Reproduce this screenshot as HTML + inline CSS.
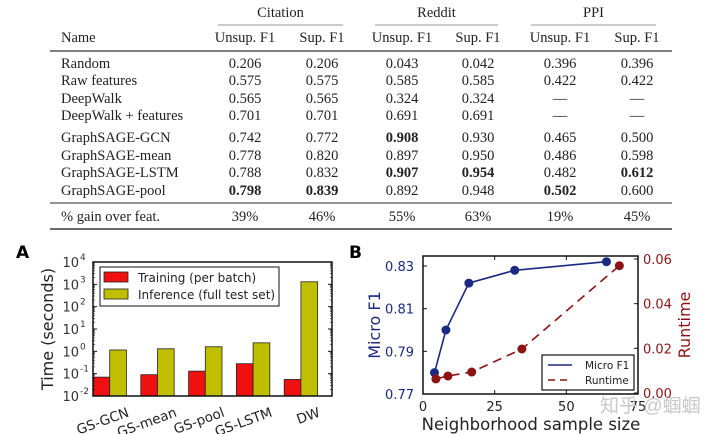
<!DOCTYPE html>
<html><head><meta charset="utf-8"><style>
body{margin:0;background:#fff;}
svg{display:block;}
.serif{font-family:"Liberation Serif",serif;font-size:14.5px;fill:#222;}
.sans{font-family:"DejaVu Sans","Liberation Sans",sans-serif;}
</style></head><body>
<svg id="root" width="720" height="434" viewBox="0 0 720 434" xmlns="http://www.w3.org/2000/svg">
<g id="table"></g>
<g id="chartA"></g>
<g id="chartB"></g>
<text x="600" y="412" font-family="'Liberation Sans','Noto Sans CJK SC',sans-serif" font-size="19" fill="#c8c8c8">知乎 @蝈蝈</text>
</svg>
<script>
const NS="http://www.w3.org/2000/svg";
function mk(p,t,a,txt){const e=document.createElementNS(NS,t);for(const k in a)e.setAttribute(k,a[k]);if(txt!==undefined)e.textContent=txt;p.appendChild(e);return e;}

// ---------- TABLE DATA ----------
const rowNames=["Random","Raw features","DeepWalk","DeepWalk + features","GraphSAGE-GCN","GraphSAGE-mean","GraphSAGE-LSTM","GraphSAGE-pool","% gain over feat."];
const citeUnsup=["0.206","0.575","0.565","0.701","0.742","0.778","0.788","*0.798","39%"];
const citeSup=["0.206","0.575","0.565","0.701","0.772","0.820","0.832","*0.839","46%"];
const redUnsup=["0.043","0.585","0.324","0.691","*0.908","0.897","*0.907","0.892","55%"];
const redSup=["0.042","0.585","0.324","0.691","0.930","0.950","*0.954","0.948","63%"];
const ppiUnsup=["0.396","0.422","—","—","0.465","0.486","0.482","*0.502","19%"];
const ppiSup=["0.396","0.422","—","—","0.500","0.598","*0.612","0.600","45%"];

const T=document.getElementById('table');
const rowY=[68,85,103,120,142,160,177,195,221];
const colX=[245,322,402,478,560,637];
const cols=[citeUnsup,citeSup,redUnsup,redSup,ppiUnsup,ppiSup];
const groups=["Citation","Reddit","PPI"];
const gx=[[218,343],[375,498],[531,656]];
groups.forEach((g,i)=>{
  const t=mk(T,'text',{x:(gx[i][0]+gx[i][1])/2,y:17,'text-anchor':'middle',class:'serif'},g);
  
  
  const l=mk(T,'line',{x1:gx[i][0],x2:gx[i][1],y1:25,y2:25,stroke:'#999','stroke-width':1});
  
  
});
let h=mk(T,'text',{x:61,y:42,class:'serif'},"Name");


colX.forEach((x,i)=>{
  const t=mk(T,'text',{x:x,y:42,'text-anchor':'middle',class:'serif'},i%2==0?"Unsup. F1":"Sup. F1");
  
  
});
[[51,1.6],[203,1.3],[229,1.8]].forEach(([y,w])=>{
  const l=mk(T,'line',{x1:50,x2:672,y1:y,y2:y,stroke:'#555','stroke-width':w});
  
  
});
rowNames.forEach((n,r)=>{
  const t=mk(T,'text',{x:61,y:rowY[r],class:'serif'},n);
  
  
  cols.forEach((c,ci)=>{
    let v=c[r],bold=false;if(v[0]=='*'){bold=true;v=v.slice(1);}
    const e=mk(T,'text',{x:colX[ci],y:rowY[r],'text-anchor':'middle',class:'serif','font-weight':bold?'bold':'normal'},v);
    
    
  });
});

// ---------- CHART A DATA ----------
const catsA=["GS-GCN","GS-mean","GS-pool","GS-LSTM","DW"];
const training=[0.07,0.09,0.13,0.28,0.055];
const inference=[1.15,1.3,1.6,2.4,1300];
const yTicksA=[-2,-1,0,1,2,3,4];

const A=document.getElementById('chartA');
const ax0=93,ax1=332,ay0=396,ay1=262;
const yA=v=>ay0-(Math.log10(v)+2)/6*(ay0-ay1);
const gw=(ax1-ax0)/5, bw=16.7;
let lA=mk(A,'text',{x:16,y:258,'font-size':17,'font-weight':'bold',class:'sans'},"A");


catsA.forEach((c,i)=>{
  const x=ax0+i*gw;
  const r=mk(A,'rect',{x:x,y:yA(training[i]),width:bw,height:ay0-yA(training[i]),fill:'#f01010',stroke:'#222','stroke-width':0.8});
  
  
  const b=mk(A,'rect',{x:x+bw,y:yA(inference[i]),width:bw,height:ay0-yA(inference[i]),fill:'#bfbf00',stroke:'#222','stroke-width':0.8});
  
  
  const cx=x+bw+20, cy=416;
  const t=mk(A,'text',{x:cx,y:cy,'text-anchor':'end','font-size':13.5,fill:'#222',class:'sans',transform:`rotate(-20 ${cx} ${cy})`},c);
  
  
});
let frA=mk(A,'rect',{x:ax0,y:ay1,width:ax1-ax0,height:ay0-ay1,fill:'none',stroke:'#111','stroke-width':1.5});


yTicksA.forEach(p=>{
  const y=yA(Math.pow(10,p));
  mk(A,'line',{x1:ax0,x2:ax0+4,y1:y,y2:y,stroke:'#111'});
  mk(A,'line',{x1:ax1,x2:ax1-4,y1:y,y2:y,stroke:'#111'});
  if(p<4)for(let m=2;m<10;m++){const ym=yA(m*Math.pow(10,p));mk(A,'line',{x1:ax0,x2:ax0+2,y1:ym,y2:ym,stroke:'#111','stroke-width':0.6});mk(A,'line',{x1:ax1,x2:ax1-2,y1:ym,y2:ym,stroke:'#111','stroke-width':0.6});}
  const t=mk(A,'text',{x:79,y:y+5,'text-anchor':'end','font-size':13,fill:'#333',class:'sans'},"10");
  
  
  mk(A,'text',{x:80,y:y-2,'font-size':9,fill:'#333',class:'sans'},String(p));
});
let ytA=mk(A,'text',{x:53,y:329,'text-anchor':'middle','font-size':16,fill:'#222',class:'sans',transform:'rotate(-90 53 329)'},"Time (seconds)");


const lgA=mk(A,'g',{});


mk(lgA,'rect',{x:100,y:267,width:179,height:39,fill:'#fff',stroke:'#111','stroke-width':1});
mk(lgA,'rect',{x:104,y:272,width:24,height:10,fill:'#f01010',stroke:'#222','stroke-width':0.8});
mk(lgA,'text',{x:138,y:282,'font-size':12,fill:'#222',class:'sans'},"Training (per batch)");
mk(lgA,'rect',{x:104,y:289,width:24,height:10,fill:'#bfbf00',stroke:'#222','stroke-width':0.8});
mk(lgA,'text',{x:138,y:299,'font-size':12,fill:'#222',class:'sans'},"Inference (full test set)");

// ---------- CHART B DATA ----------
const f1X=[4,8,16,32,64];
const f1Y=[0.780,0.800,0.822,0.828,0.832];
const rtX=[4.5,8.7,17,34.5,68.5];
const rtY=[0.0063,0.0076,0.0094,0.0197,0.057];
const xTicksB=[0,25,50,75];
const yTicksB=[0.77,0.79,0.81,0.83];
const y2TicksB=[0.00,0.02,0.04,0.06];

const B=document.getElementById('chartB');
const bx0=423,bx1=638,by0=394,by1=256;
const xB=v=>bx0+v/75*(bx1-bx0);
const yB=v=>394-(v-0.77)/0.06*(394-266);
const y2B=v=>393-v/0.06*(393-259);
const blue='#1b2a80',red='#8c1414';
let lB=mk(B,'text',{x:349,y:258,'font-size':17,'font-weight':'bold',class:'sans'},"B");


let frB=mk(B,'rect',{x:bx0,y:by1,width:bx1-bx0,height:by0-by1,fill:'none',stroke:'#111','stroke-width':1.5});


xTicksB.forEach(v=>{
  const x=xB(v);
  mk(B,'line',{x1:x,x2:x,y1:by0,y2:by0-4,stroke:'#111'});
  mk(B,'line',{x1:x,x2:x,y1:by1,y2:by1+4,stroke:'#111'});
  const t=mk(B,'text',{x:x,y:411,'text-anchor':'middle','font-size':13,fill:'#222',class:'sans'},String(v));
  
  
});
yTicksB.forEach(v=>{
  const y=yB(v);
  mk(B,'line',{x1:bx0,x2:bx0+4,y1:y,y2:y,stroke:'#111'});
  const t=mk(B,'text',{x:414,y:y+5,'text-anchor':'end','font-size':13,fill:blue,class:'sans'},v.toFixed(2));
  
  
});
y2TicksB.forEach(v=>{
  const y=y2B(v);
  mk(B,'line',{x1:bx1,x2:bx1-4,y1:y,y2:y,stroke:'#111'});
  const t=mk(B,'text',{x:643,y:y+5,'font-size':13,fill:red,class:'sans'},v.toFixed(2));
  
  
});
let l1=mk(B,'polyline',{points:f1X.map((x,i)=>xB(x)+','+yB(f1Y[i])).join(' '),fill:'none',stroke:blue,'stroke-width':1.6});


let l2=mk(B,'polyline',{points:rtX.map((x,i)=>xB(x)+','+y2B(rtY[i])).join(' '),fill:'none',stroke:red,'stroke-width':1.6,'stroke-dasharray':'9,6'});


f1X.forEach((x,i)=>{
  const c=mk(B,'circle',{cx:xB(x),cy:yB(f1Y[i]),r:4.5,fill:blue});
  
  
});
rtX.forEach((x,i)=>{
  const c=mk(B,'circle',{cx:xB(x),cy:y2B(rtY[i]),r:4.5,fill:red});
  
  
});
let xtB=mk(B,'text',{x:531,y:430,'text-anchor':'middle','font-size':16.5,fill:'#222',class:'sans'},"Neighborhood sample size");


let ytB=mk(B,'text',{x:380,y:325,'text-anchor':'middle','font-size':16,fill:blue,class:'sans',transform:'rotate(-90 380 325)'},"Micro F1");


let yt2B=mk(B,'text',{x:690,y:325,'text-anchor':'middle','font-size':16,fill:red,class:'sans',transform:'rotate(-90 690 325)'},"Runtime");


const lgB=mk(B,'g',{});


mk(lgB,'rect',{x:542,y:355,width:92,height:35,fill:'#fff',stroke:'#111','stroke-width':1.2});
mk(lgB,'line',{x1:548,x2:572,y1:365,y2:365,stroke:blue,'stroke-width':1.6});
mk(lgB,'text',{x:585,y:369,'font-size':10.5,fill:'#222',class:'sans'},"Micro F1");
mk(lgB,'line',{x1:548,x2:572,y1:380,y2:380,stroke:red,'stroke-width':1.6,'stroke-dasharray':'7,5'});
mk(lgB,'text',{x:585,y:384,'font-size':10.5,fill:'#222',class:'sans'},"Runtime");
</script>
</body></html>
